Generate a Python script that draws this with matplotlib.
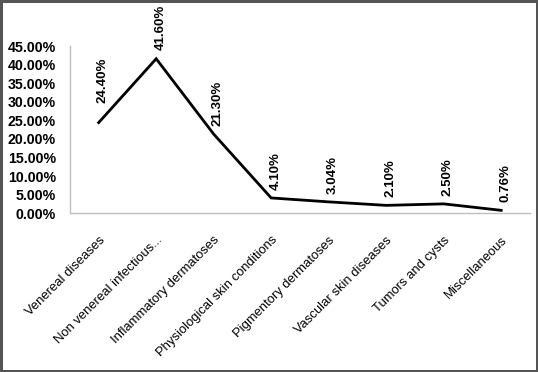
import matplotlib
matplotlib.use("Agg")
import matplotlib.pyplot as plt
import matplotlib.transforms as mtransforms
from matplotlib.ticker import FuncFormatter

categories = ["Venereal diseases", "Non venereal infectious...",
              "Inflammatory dermatoses", "Physiological skin conditions",
              "Pigmentory dermatoses", "Vascular skin diseases",
              "Tumors and cysts", "Miscellaneous"]
values = [24.40, 41.60, 21.30, 4.10, 3.04, 2.10, 2.50, 0.76]
y_ticks = [0, 5, 10, 15, 20, 25, 30, 35, 40, 45]

plt.rcParams["font.family"] = ["Liberation Sans", "DejaVu Sans"]

fig = plt.figure(figsize=(5.38, 3.72), dpi=100)
fig.patch.set_edgecolor("#555555")
fig.patch.set_linewidth(2.5)
ax = fig.add_axes([0.130, 0.427, 0.855, 0.449])

x = list(range(len(categories)))
ax.plot(x, values, color="black", lw=2.0, solid_joinstyle="miter")

for i, v in enumerate(values):
    dy = 14 if i == 0 else 6
    ax.annotate(f"{v:.2f}%", (i, v), xytext=(3, dy), textcoords="offset points",
                rotation=90, ha="center", va="bottom", fontsize=9.5,
                fontweight="bold", annotation_clip=False)

ax.set_xlim(-0.5, len(categories) - 0.5)
ax.set_ylim(0, 45)
ax.set_yticks(y_ticks)
ax.yaxis.set_major_formatter(FuncFormatter(lambda v, _: f"{v:.2f}%"))
ax.set_xticks(x)
ax.set_xticklabels(categories, rotation=45, ha="right", rotation_mode="anchor",
                   fontsize=9.4)
# nudge the slanted labels left so their ends sit under the points
shift = mtransforms.ScaledTranslation(-6 / 100, 0, fig.dpi_scale_trans)
for lab in ax.get_xticklabels():
    lab.set_transform(lab.get_transform() + shift)
for lab in ax.get_yticklabels():
    lab.set_fontweight("bold")
    lab.set_fontsize(10.2)
ax.tick_params(axis="both", length=0)
ax.tick_params(axis="y", pad=10)
ax.tick_params(axis="x", pad=15)

for s in ("top", "right"):
    ax.spines[s].set_visible(False)
for s in ("left", "bottom"):
    ax.spines[s].set_color("#bfbfbf")
    ax.spines[s].set_linewidth(1.0)

fig.savefig("out.png", dpi=100, edgecolor=fig.get_edgecolor())
